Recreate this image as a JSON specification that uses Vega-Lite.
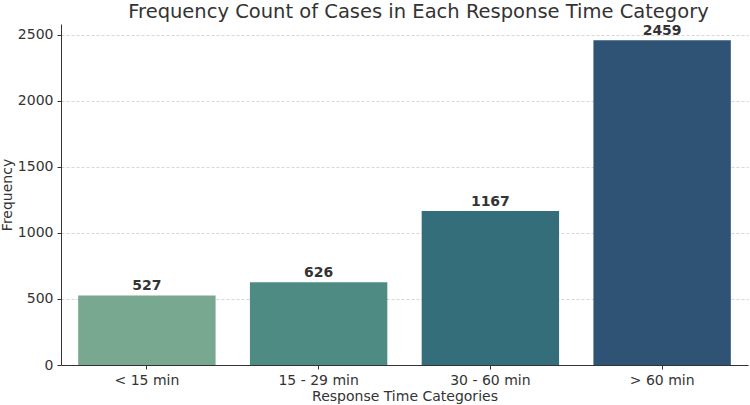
{
  "$schema": "https://vega.github.io/schema/vega-lite/v6.json",
  "width": 687,
  "height": 341,
  "autosize": {"type": "none"},
  "padding": {"left": 61, "top": 24, "right": 2, "bottom": 40},
  "background": "white",
  "title": {
    "text": "Frequency Count of Cases in Each Response Time Category",
    "fontSize": 19.5,
    "font": "DejaVu Sans",
    "fontWeight": "normal",
    "color": "#333333",
    "anchor": "middle",
    "offset": 2,
    "dx": 14
  },
  "config": {
    "view": {"stroke": null},
    "font": "DejaVu Sans"
  },
  "data": {
    "values": [
      {"category": "< 15 min", "count": 527},
      {"category": "15 - 29 min", "count": 626},
      {"category": "30 - 60 min", "count": 1167},
      {"category": "> 60 min", "count": 2459}
    ]
  },
  "encoding": {
    "x": {
      "field": "category",
      "type": "nominal",
      "sort": null,
      "scale": {"paddingInner": 0.2, "paddingOuter": 0.1},
      "axis": {
        "title": "Response Time Categories",
        "titleFontSize": 14,
        "titleFontWeight": "normal",
        "titleColor": "#333333",
        "titlePadding": 2,
        "labelAngle": 0,
        "labelFontSize": 14,
        "labelColor": "#333333",
        "labelPadding": 4,
        "domainColor": "#333333",
        "tickColor": "#333333",
        "tickSize": 4,
        "grid": false
      }
    },
    "y": {
      "field": "count",
      "type": "quantitative",
      "scale": {"domain": [0, 2582], "nice": false},
      "axis": {
        "title": "Frequency",
        "titleFontSize": 14,
        "titleFontWeight": "normal",
        "titleColor": "#333333",
        "titlePadding": 3,
        "labelFontSize": 14,
        "labelColor": "#333333",
        "labelPadding": 4,
        "format": "d",
        "values": [0, 500, 1000, 1500, 2000, 2500],
        "domainColor": "#333333",
        "tickColor": "#333333",
        "tickSize": 4,
        "grid": true,
        "gridColor": "#cccccc",
        "gridDash": [3, 2],
        "gridWidth": 0.8
      }
    }
  },
  "layer": [
    {
      "mark": {"type": "bar"},
      "encoding": {
        "color": {
          "field": "category",
          "type": "nominal",
          "sort": null,
          "scale": {
            "domain": ["< 15 min", "15 - 29 min", "30 - 60 min", "> 60 min"],
            "range": ["#78a88f", "#4e8b83", "#336e7a", "#2e5375"]
          },
          "legend": null
        }
      }
    },
    {
      "mark": {"type": "text", "baseline": "bottom", "dy": -2, "fontSize": 14, "fontWeight": "bold", "color": "#333333"},
      "encoding": {"text": {"field": "count", "type": "quantitative"}}
    }
  ]
}
